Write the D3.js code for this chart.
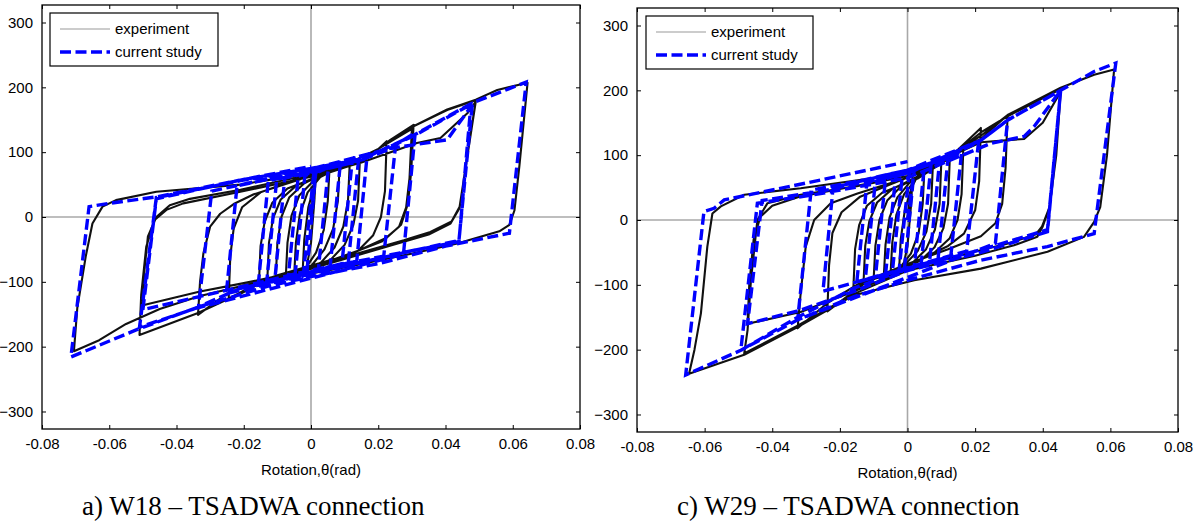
<!DOCTYPE html>
<html><head><meta charset="utf-8">
<script src="https://cdn.jsdelivr.net/npm/d3@7"></script>
<style>body{margin:0;background:#fff}svg{display:block}</style>
</head><body><svg id="c" width="1199" height="524"></svg>
<script>
const xTicks = [-0.08,-0.06,-0.04,-0.02,0,0.02,0.04,0.06,0.08];
const yTicks = [-300,-200,-100,0,100,200,300];
const xLabel = "Rotation,\u03b8(rad)";
const seriesNames = ["experiment","current study"];
const captions = ["a) W18 \u2013 TSADWA connection","c) W29 \u2013 TSADWA connection"];

// W18 – experiment (rotation rad, moment)
const expA = [
[0,0],[0.0008,45],[0.0015,70],
[0.0010,25],[0.0000,-40],[-0.0012,-75],[-0.0025,-86],
[-0.0020,-35],[-0.0008,15],[0.0012,52],[0.0032,68],[0.0055,74],
[0.0050,25],[0.0038,-20],[0.0015,-55],[-0.0015,-78],[-0.0050,-90],
[-0.0045,-40],[-0.0033,5],[-0.0010,38],[0.0030,63],[0.0085,77],
[0.0080,25],[0.0066,-18],[0.0040,-50],[0.0000,-76],[-0.0075,-93],
[-0.0070,-40],[-0.0058,2],[-0.0035,33],[0.0010,57],[0.0060,70],[0.0115,80],
[0.0110,25],[0.0096,-15],[0.0070,-47],[0.0030,-70],[-0.0030,-86],[-0.0105,-96],
[-0.0100,-40],[-0.0088,0],[-0.0065,30],[-0.0020,52],[0.0050,70],[0.0145,84],
[0.0140,25],[0.0126,-12],[0.0100,-43],[0.0060,-65],[0.0000,-80],[-0.0130,-98],
[-0.0125,-40],[-0.0113,-2],[-0.0090,27],[-0.0045,48],[0.0050,70],[0.0150,85],[0.0190,100],[0.0225,117],
[0.0220,40],[0.0208,0],[0.0185,-28],[0.0140,-52],[0.0060,-70],[-0.0060,-88],[-0.0155,-103],
[-0.0150,-45],[-0.0138,-8],[-0.0115,22],[-0.0070,44],[0.0050,68],[0.0150,85],[0.0236,119],[0.0305,142],
[0.0298,70],[0.0288,20],[0.0268,-12],[0.0225,-32],[0.0140,-52],[0.0000,-78],[-0.0150,-102],[-0.0245,-128],
[-0.0240,-60],[-0.0230,-18],[-0.0205,15],[-0.0150,38],[-0.0050,57],[0.0100,80],[0.0200,105],[0.0300,136],
[0.0293,60],[0.0283,15],[0.0262,-15],[0.0210,-38],[0.0100,-60],[-0.0100,-90],[-0.0250,-118],[-0.0336,-151],
[-0.0330,-100],[-0.0320,-56],[-0.0300,-15],[-0.0270,5],[-0.0230,20],[-0.0170,35],[-0.0050,55],[0.0050,72],[0.0151,85],[0.0236,119],[0.0305,140],[0.0405,165],[0.0490,180],
[0.0455,60],[0.0442,16],[0.0418,-7],[0.0355,-23],[0.0276,-36],[0.0100,-62],[0.0000,-76],[-0.0150,-100],[-0.0245,-126],[-0.0336,-148],[-0.0510,-182],
[-0.0505,-120],[-0.0490,-46],[-0.0466,-5],[-0.0430,11],[-0.0380,21],[-0.0210,39],[0.0000,62],[0.0150,84],[0.0315,114],[0.0385,122],[0.0465,160],[0.0490,178],
[0.0455,60],[0.0442,14],[0.0415,-10],[0.0350,-27],[0.0250,-42],[0.0000,-80],[-0.0200,-102],[-0.0330,-115],[-0.0500,-136],
[-0.0495,-80],[-0.0485,-30],[-0.0460,0],[-0.0420,18],[-0.0360,28],[-0.0210,42],[0.0000,66],[0.0150,85],[0.0236,119],[0.0305,140],[0.0405,166],[0.0490,181],[0.0554,196],[0.0644,207],
[0.0620,80],[0.0605,10],[0.0590,-12],[0.0560,-22],[0.0435,-41],[0.0305,-56],[0.0107,-77],[0.0000,-87],[-0.0130,-97],[-0.0330,-122],[-0.0450,-142],[-0.0550,-165],[-0.0630,-190],[-0.0705,-207],
[-0.0695,-140],[-0.0670,-61],[-0.0650,-10],[-0.0620,16],[-0.0580,26],[-0.0460,39],[-0.0210,50],[0.0000,68]
];

// W18 – current study
const simA = [
[0,0],[0.0015,74],
[-0.0012,-84],[-0.0023,-90],
[0.0008,66],[0.0052,77],
[0.0022,-80],[-0.0048,-93],
[-0.0018,64],[0.0087,81],
[0.0057,-76],[-0.0068,-95],
[-0.0038,63],[0.0122,84],
[0.0092,-72],[-0.0108,-99],
[-0.0078,60],[0.0141,86],
[0.0111,-70],[-0.0132,-102],
[-0.0102,58],[0.0166,90],
[0.0136,-68],[-0.0157,-105],
[-0.0127,56],[0.0150,88],[0.0251,108],
[0.0216,-62],[-0.0252,-118],
[-0.0220,48],[0.0000,72],[0.0236,106],[0.0310,130],
[0.0275,-57],[-0.0335,-140],
[-0.0295,40],[-0.0100,62],[0.0156,90],[0.0305,125],[0.0480,175],
[0.0440,-36],[0.0200,-64],[0.0000,-86],[-0.0210,-110],[-0.0350,-142],[-0.0510,-170],
[-0.0460,30],[-0.0210,56],[0.0000,74],[0.0236,106],[0.0405,119],[0.0475,170],
[0.0440,-38],[0.0200,-62],[0.0000,-82],[-0.0210,-108],[-0.0500,-143],
[-0.0460,28],[-0.0210,57],[0.0000,75],[0.0156,90],[0.0305,126],[0.0480,176],[0.0640,208],
[0.0590,-25],[0.0400,-45],[0.0200,-72],[0.0000,-92],[-0.0130,-107],[-0.0330,-138],[-0.0510,-172],[-0.0714,-216],
[-0.0660,16],[-0.0600,21],[-0.0460,31],[-0.0210,57],[0.0000,78]
];

// W29 – experiment
const expC = [
[0,0],[0.0008,40],[0.0015,65],
[0.0010,20],[0.0000,-40],[-0.0012,-70],[-0.0025,-78],
[-0.0020,-30],[-0.0008,15],[0.0012,50],[0.0030,68],[0.0050,78],
[0.0045,25],[0.0033,-20],[0.0010,-52],[-0.0020,-72],[-0.0050,-82],
[-0.0045,-35],[-0.0033,8],[-0.0010,40],[0.0030,66],[0.0075,84],
[0.0070,25],[0.0056,-18],[0.0030,-48],[-0.0010,-70],[-0.0070,-86],
[-0.0065,-38],[-0.0053,4],[-0.0030,35],[0.0010,60],[0.0060,76],[0.0100,90],
[0.0095,25],[0.0081,-15],[0.0055,-45],[0.0015,-66],[-0.0040,-80],[-0.0100,-90],
[-0.0095,-40],[-0.0083,0],[-0.0060,30],[-0.0015,54],[0.0060,76],[0.0125,95],
[0.0120,25],[0.0106,-13],[0.0080,-42],[0.0040,-62],[-0.0030,-80],[-0.0130,-96],
[-0.0125,-40],[-0.0113,-2],[-0.0090,27],[-0.0045,48],[0.0050,72],[0.0120,95],[0.0165,108],
[0.0160,40],[0.0148,0],[0.0125,-28],[0.0080,-50],[0.0000,-72],[-0.0100,-90],[-0.0160,-104],
[-0.0155,-45],[-0.0143,-8],[-0.0120,22],[-0.0075,42],[0.0030,64],[0.0120,94],[0.0217,142],
[0.0212,60],[0.0200,15],[0.0167,-21],[0.0120,-40],[0.0000,-70],[-0.0120,-95],[-0.0237,-141],
[-0.0232,-70],[-0.0222,-20],[-0.0195,12],[-0.0140,36],[-0.0050,55],[0.0080,82],[0.0217,130],[0.0296,162],
[0.0290,80],[0.0280,25],[0.0260,-5],[0.0217,-25],[0.0120,-45],[0.0000,-68],[-0.0150,-100],[-0.0237,-128],[-0.0325,-167],
[-0.0316,-113],[-0.0301,-41],[-0.0276,0],[-0.0227,26],[-0.0148,41],[0.0000,65],[0.0120,95],[0.0217,135],[0.0296,160],[0.0453,202],
[0.0440,100],[0.0420,20],[0.0400,-10],[0.0384,-26],[0.0315,-39],[0.0200,-55],[0.0000,-78],[-0.0158,-114],[-0.0325,-163],[-0.0483,-206],
[-0.0473,-170],[-0.0463,-93],[-0.0444,0],[-0.0414,26],[-0.0316,39],[-0.0150,52],[0.0000,68],[0.0217,120],[0.0345,125],[0.0400,150],[0.0453,198],
[0.0440,100],[0.0420,20],[0.0398,-10],[0.0380,-22],[0.0300,-36],[0.0150,-55],[0.0000,-75],[-0.0158,-110],[-0.0316,-142],[-0.0473,-160],
[-0.0468,-100],[-0.0455,-30],[-0.0435,5],[-0.0400,22],[-0.0320,36],[0.0000,68],[0.0217,125],[0.0296,162],[0.0453,204],[0.0552,224],[0.0611,232],
[0.0590,100],[0.0570,20],[0.0552,-3],[0.0522,-26],[0.0414,-49],[0.0217,-75],[0.0020,-93],[-0.0158,-116],[-0.0325,-165],[-0.0483,-208],[-0.0646,-237],
[-0.0630,-200],[-0.0611,-144],[-0.0592,-41],[-0.0577,10],[-0.0552,21],[-0.0483,39],[-0.0316,49],[0.0000,72]
];

// W29 – current study
const simC = [
[0,0],[0.0020,78],
[-0.0010,-80],[-0.0025,-78],
[0.0005,72],[0.0050,84],
[0.0020,-72],[-0.0045,-81],
[-0.0015,70],[0.0070,87],
[0.0040,-70],[-0.0065,-84],
[-0.0035,67],[0.0095,91],
[0.0065,-66],[-0.0095,-88],
[-0.0065,63],[0.0120,96],
[0.0090,-62],[-0.0125,-92],
[-0.0095,59],[0.0160,104],
[0.0128,-56],[-0.0150,-96],
[-0.0120,57],[0.0100,93],[0.0210,120],
[0.0175,-48],[-0.0250,-110],
[-0.0220,50],[0.0000,77],[0.0217,123],[0.0296,154],
[0.0260,-36],[-0.0325,-154],
[-0.0285,46],[-0.0128,62],[0.0000,77],[0.0108,93],[0.0217,123],[0.0296,154],[0.0453,200],
[0.0414,-15],[0.0217,-46],[0.0000,-75],[-0.0158,-105],[-0.0325,-150],[-0.0493,-201],
[-0.0444,26],[-0.0276,39],[0.0000,65],[0.0246,118],[0.0345,129],[0.0374,144],[0.0453,200],
[0.0414,-18],[0.0217,-50],[0.0000,-78],[-0.0158,-110],[-0.0316,-139],[-0.0473,-160],
[-0.0430,30],[-0.0250,45],[0.0000,72],[0.0217,123],[0.0296,154],[0.0453,200],[0.0552,229],[0.0616,242],
[0.0552,-21],[0.0414,-41],[0.0217,-62],[0.0000,-93],[-0.0158,-118],[-0.0325,-154],[-0.0493,-201],[-0.0656,-239],
[-0.0602,13],[-0.0572,18],[-0.0542,31],[-0.0300,57],[0.0000,90]
];

const panels = [
  {box:[42,5,580,429], exp:expA, sim:simA, caption:captions[0], capX:82, leg:[50,13,168,53]},
  {box:[637,8,1178,432], exp:expC, sim:simC, caption:captions[1], capX:677, leg:[646,16,167,53]}
];

const svg = d3.select("#c");
const FONT = "Arial, 'Liberation Sans', sans-serif";
const DASH = "11,4.5";

panels.forEach(p => {
  const [x0,y0,x1,y1] = p.box;
  const x = d3.scaleLinear().domain([-0.08,0.08]).range([x0,x1]);
  const y = d3.scaleLinear().domain([-327,327]).range([y1,y0]);
  const g = svg.append("g");
  const clipId = "clip"+x0;
  svg.append("clipPath").attr("id",clipId).append("rect")
    .attr("x",x0).attr("y",y0).attr("width",x1-x0).attr("height",y1-y0);
  const plot = g.append("g").attr("clip-path",`url(#${clipId})`);
  // zero reference lines
  plot.append("line").attr("x1",x0).attr("x2",x1).attr("y1",y(0)).attr("y2",y(0))
    .attr("stroke","#a8a8a8").attr("stroke-width",1.6);
  plot.append("line").attr("x1",x(0)).attr("x2",x(0)).attr("y1",y0).attr("y2",y1)
    .attr("stroke","#a8a8a8").attr("stroke-width",1.6);
  const lineExp = d3.line().x(d=>x(d[0])).y(d=>y(d[1]));
  const lineSim = d3.line().x(d=>x(d[0])).y(d=>y(d[1]));
  plot.append("path").attr("d",lineExp(p.exp)).attr("fill","none")
    .attr("stroke","#111").attr("stroke-width",2.1).attr("stroke-linejoin","round");
  plot.append("path").attr("d",lineSim(p.sim)).attr("fill","none")
    .attr("stroke","#0000ff").attr("stroke-width",3.4).attr("stroke-dasharray",DASH);

  // axes (MATLAB-style: ticks inside, boxed)
  const tl = 4;
  const axB = d3.axisBottom(x).tickValues(xTicks).tickSizeInner(-tl).tickSizeOuter(0)
    .tickPadding(9).tickFormat(v => v===0 ? "0" : v.toFixed(2));
  const axT = d3.axisTop(x).tickValues(xTicks).tickSizeInner(-tl).tickSizeOuter(0).tickFormat("");
  const axL = d3.axisLeft(y).tickValues(yTicks).tickSizeInner(-tl).tickSizeOuter(0)
    .tickPadding(9).tickFormat(d3.format("d"));
  const axR = d3.axisRight(y).tickValues(yTicks).tickSizeInner(-tl).tickSizeOuter(0).tickFormat("");
  [[axB,`translate(0,${y1})`],[axT,`translate(0,${y0})`],[axL,`translate(${x0},0)`],[axR,`translate(${x1},0)`]]
    .forEach(([ax,tr]) => {
      const a = g.append("g").attr("transform",tr).call(ax);
      a.select(".domain").remove();
      a.selectAll("line").attr("stroke","#000").attr("stroke-width",1);
      a.selectAll("text").attr("font-family",FONT).attr("font-size",15).attr("fill","#000");
    });
  g.append("rect").attr("x",x0).attr("y",y0).attr("width",x1-x0).attr("height",y1-y0)
    .attr("fill","none").attr("stroke","#000").attr("stroke-width",1.3);

  g.append("text").attr("x",(x0+x1)/2).attr("y",y1+46).attr("text-anchor","middle")
    .attr("font-family",FONT).attr("font-size",15).text(xLabel);

  // legend
  const [lx,ly,lw,lh] = p.leg;
  const lg = g.append("g");
  lg.append("rect").attr("x",lx).attr("y",ly).attr("width",lw).attr("height",lh)
    .attr("fill","#fff").attr("stroke","#000").attr("stroke-width",1.2);
  lg.append("line").attr("x1",lx+10).attr("x2",lx+60).attr("y1",ly+16).attr("y2",ly+16)
    .attr("stroke","#999").attr("stroke-width",1);
  lg.append("line").attr("x1",lx+10).attr("x2",lx+60).attr("y1",ly+39).attr("y2",ly+39)
    .attr("stroke","#0000ff").attr("stroke-width",3.4).attr("stroke-dasharray",DASH);
  lg.append("text").attr("x",lx+65).attr("y",ly+21).attr("font-family",FONT).attr("font-size",15).text(seriesNames[0]);
  lg.append("text").attr("x",lx+65).attr("y",ly+44).attr("font-family",FONT).attr("font-size",15).text(seriesNames[1]);

  g.append("text").attr("x",p.capX).attr("y",515)
    .attr("font-family","'Liberation Serif','Times New Roman',serif").attr("font-size",27).text(p.caption);
});
</script></body></html>
